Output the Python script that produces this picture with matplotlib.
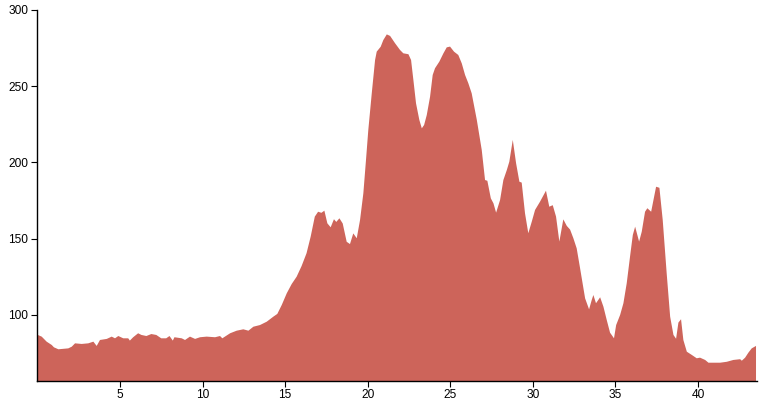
import matplotlib.pyplot as plt

plt.rcParams['font.family'] = ['Liberation Sans', 'DejaVu Sans']

# distance (km) and elevation
km = [0.0, 0.26, 0.56, 0.87, 1.0, 1.27, 1.57, 1.87, 2.08, 2.28, 2.68, 3.08, 3.39, 3.59, 3.79,
      4.2, 4.5, 4.7, 4.9, 5.2, 5.5, 5.6, 5.8, 6.1, 6.3, 6.6, 6.9, 7.2, 7.5, 7.8, 8.0, 8.2, 8.3,
      8.74, 8.94, 9.24, 9.55, 9.85, 10.25, 10.76, 11.06, 11.2, 11.67, 12.07, 12.47, 12.78,
      13.08, 13.48, 13.89, 14.29, 14.53, 14.8, 15.1, 15.4, 15.7, 16.0, 16.3, 16.55, 16.8,
      17.0, 17.2, 17.38, 17.56, 17.76, 17.96, 18.1, 18.29, 18.49, 18.73, 18.93, 19.13, 19.34,
      19.54, 19.74, 19.9, 20.04, 20.25, 20.45, 20.55, 20.79, 20.95, 21.16, 21.36, 21.66, 21.96,
      22.16, 22.47, 22.63, 22.77, 22.93, 23.13, 23.28, 23.42, 23.58, 23.78, 23.94, 24.08,
      24.34, 24.59, 24.79, 24.99, 25.23, 25.49, 25.7, 25.9, 26.1, 26.3, 26.61, 26.91, 27.11,
      27.25, 27.46, 27.62, 27.78, 28.02, 28.22, 28.43, 28.58, 28.79, 28.99, 29.19, 29.33,
      29.53, 29.73, 29.94, 30.14, 30.44, 30.8, 31.0, 31.21, 31.41, 31.61, 31.85, 32.06, 32.26,
      32.46, 32.66, 32.86, 33.17, 33.41, 33.57, 33.67, 33.83, 34.08, 34.28, 34.48, 34.68,
      34.92, 35.05, 35.29, 35.49, 35.69, 35.89, 36.06, 36.2, 36.44, 36.6, 36.8, 36.94, 37.17,
      37.35, 37.47, 37.67, 37.87, 38.11, 38.32, 38.52, 38.68, 38.82, 38.98, 39.12, 39.33,
      39.63, 39.93, 40.13, 40.44, 40.64, 40.94, 41.35, 41.75, 42.15, 42.56, 42.66, 42.86,
      43.06, 43.26, 43.52]
elev = [87, 85.8, 82.5, 80.3, 78.8, 77.5, 77.8, 78.1, 79.2, 81.4, 81.0, 81.4, 82.5, 79.7, 83.6,
        84.3, 85.8, 84.7, 86.2, 84.7, 84.7, 83.2, 85.4, 88.0, 86.9, 86.2, 87.5, 86.9, 84.7, 84.7,
        86.2, 83.2, 85.4, 84.7, 83.6, 85.8, 84.3, 85.4, 85.8, 85.4, 86.2, 84.7, 88.0, 89.7, 90.6,
        89.7, 92.3, 93.4, 95.6, 98.9, 100.7, 106.6, 114.2, 120.3, 125.1, 132.1, 140.5, 151.4,
        164.5, 167.7, 167, 168.4, 160.1, 157.5, 162.8, 161, 163.4, 160, 148, 146.5, 153.5, 150.3,
        162.3, 179.8, 201.6, 221.3, 245.4, 267.2, 272.7, 275.9, 280.3, 284.0, 283, 278.2, 273.8,
        271.6, 271, 267.2, 254.1, 238.8, 227.9, 222.4, 224.6, 231.1, 243.1, 257.4, 261.8,
        266.1, 271.6, 275.5, 276, 272.7, 270.5, 265, 257.4, 251.9, 245.4, 228, 208.2, 188.5,
        188, 176.5, 173.2, 167.1, 175.4, 188.5, 195.1, 200.5, 214.8, 199.5, 187.4, 186.8,
        166.7, 153.6, 161.2, 168.9, 174.3, 181.5, 171, 172, 164.5, 148.1, 162.7, 158.4, 156,
        150.3, 143.7, 131, 110.9, 103.7, 109.8, 113.1, 107.7, 111.6, 105.4, 96.7, 88.4,
        84.7, 93.4, 100, 107.7, 120.8, 138.2, 152.5, 157.9, 148.1, 154.6, 167.7, 170, 167.7,
        177.6, 184.1, 183.4, 162.3, 127.3, 98.9, 86.9, 84.4, 95, 97.2, 83.6, 75.9,
        73.8, 71.6, 72, 70.5, 68.7, 68.7, 68.7, 69.3, 70.5, 71, 70, 72,
        75.3, 78.1, 79.7]

xticks = [5, 10, 15, 20, 25, 30, 35, 40]
yticks = [100, 150, 200, 250, 300]

fig = plt.figure(figsize=(7.62, 4), dpi=100)
ax = fig.add_axes([37.4 / 762, 19 / 400, (757 - 37.4) / 762, 371 / 400])

ax.fill_between(km, elev, 0, color='#cd645a', lw=0)

ax.set(xlim=(0, 43.58), ylim=(56.7, 300))
ax.set_xticks(xticks)
ax.set_yticks(yticks)

ax.spines['top'].set_visible(False)
ax.spines['right'].set_visible(False)
ax.spines['left'].set_linewidth(1)
ax.spines['bottom'].set_linewidth(1)

ax.tick_params(length=4.3, width=0.8, labelsize=8.6, pad=1.5, color='black')
ax.tick_params(axis='y', pad=2.2)

fig.savefig('out.png', dpi=100)
